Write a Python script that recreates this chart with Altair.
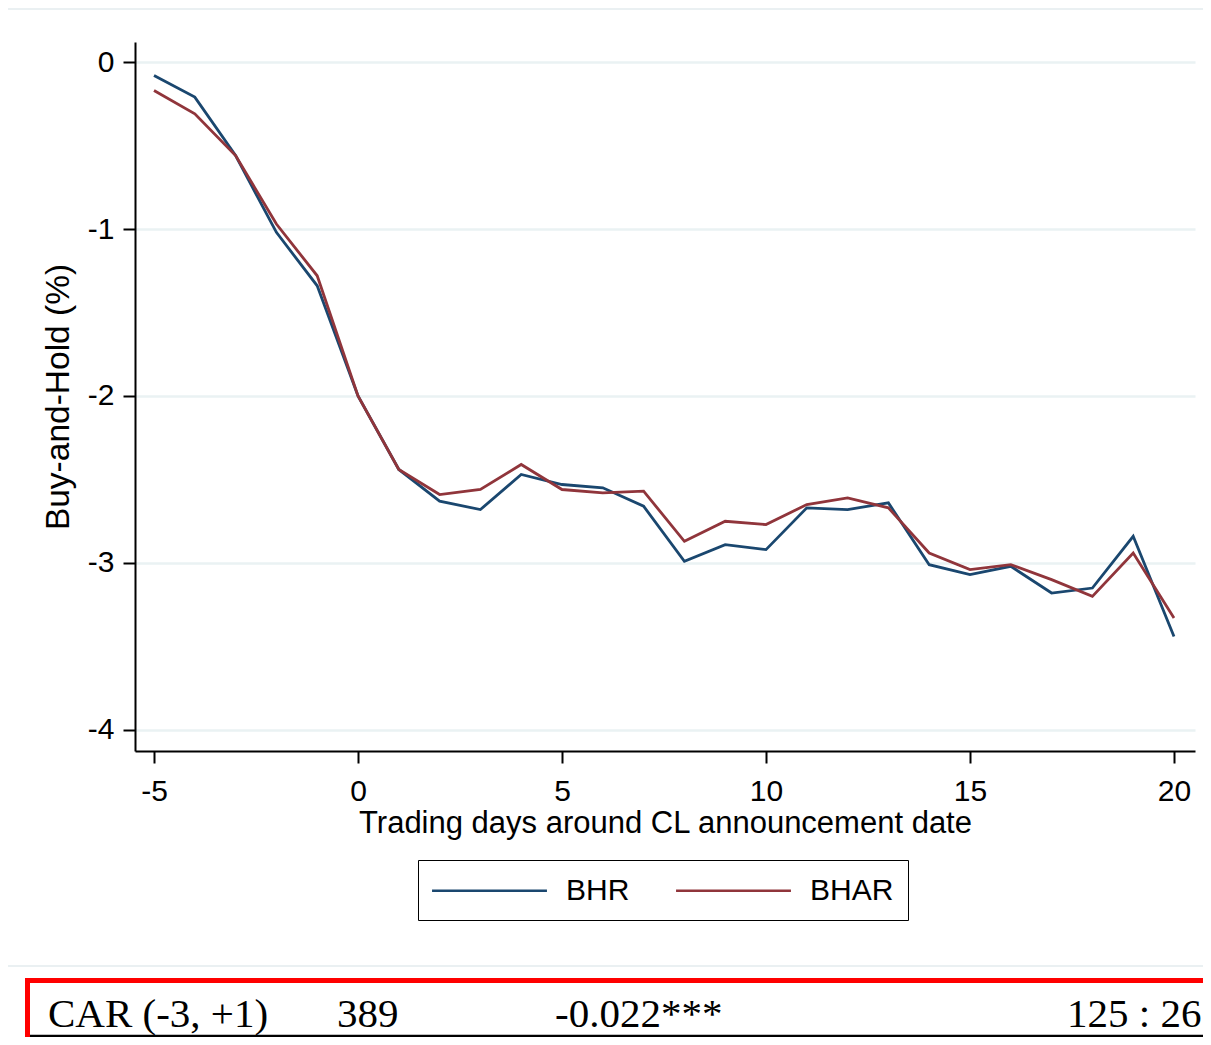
import altair as alt
import pandas as pd

days = list(range(-5, 21))
bhr = [-0.08, -0.21, -0.56, -1.02, -1.34, -2.00, -2.44, -2.63, -2.68, -2.47,
       -2.53, -2.55, -2.66, -2.99, -2.89, -2.92, -2.67, -2.68, -2.64, -3.01,
       -3.07, -3.02, -3.18, -3.15, -2.84, -3.44]
bhar = [-0.17, -0.31, -0.56, -0.97, -1.28, -2.00, -2.44, -2.59, -2.56, -2.41,
        -2.56, -2.58, -2.57, -2.87, -2.75, -2.77, -2.65, -2.61, -2.67, -2.94,
        -3.04, -3.01, -3.10, -3.20, -2.94, -3.33]
series_names = ["BHR", "BHAR"]
series_colors = ["#1a476f", "#90353b"]
x_ticks = [-5, 0, 5, 10, 15, 20]
y_ticks = [0, -1, -2, -3, -4]
x_title = "Trading days around CL announcement date"
y_title = "Buy-and-Hold (%)"
table_row = ["CAR (-3, +1)", "389", "-0.022***", "125 : 26"]

rows = []
for name, vals in zip(series_names, [bhr, bhar]):
    for d, v in zip(days, vals):
        rows.append({"day": d, "value": v, "series": name})
df = pd.DataFrame(rows)

SANS = "Liberation Sans"
SERIF = "Liberation Serif"

lines = alt.Chart(df).mark_line(strokeWidth=2.8).encode(
    x=alt.X("day:Q",
            scale=alt.Scale(domain=[-5.466, 20.515], nice=False, zero=False),
            axis=alt.Axis(values=x_ticks, title=x_title, grid=False,
                          labelExpr="'' + datum.value",
                          labelFont=SANS, labelFontSize=30, labelColor="black",
                          labelPadding=13.5, tickSize=12, tickWidth=2, tickColor="black",
                          domainColor="black", domainWidth=2,
                          titleFont=SANS, titleFontSize=31, titleFontWeight="normal",
                          titleColor="black", titlePadding=1.5)),
    y=alt.Y("value:Q",
            scale=alt.Scale(domain=[-4.126, 0.12], nice=False, zero=False),
            axis=alt.Axis(values=y_ticks, title=y_title, grid=True,
                          gridColor="#eaf2f3", gridWidth=2.5,
                          labelExpr="'' + datum.value",
                          labelFont=SANS, labelFontSize=30, labelColor="black",
                          labelPadding=9, tickSize=12, tickWidth=2, tickColor="black",
                          domainColor="black", domainWidth=2,
                          titleFont=SANS, titleFontSize=33.5, titleFontWeight="normal",
                          titleColor="black", titlePadding=12)),
    color=alt.Color("series:N",
                    scale=alt.Scale(domain=series_names, range=series_colors),
                    sort=series_names,
                    legend=alt.Legend(orient="none", legendX=283, legendY=818,
                                      direction="horizontal", title=None,
                                      symbolType="M-3.83,0L3.83,0", symbolSize=900,
                                      symbolStrokeWidth=2.5, symbolOffset=41,
                                      labelOffset=60, labelFont=SANS,
                                      labelFontSize=30, labelColor="black",
                                      columnPadding=41, strokeColor="black",
                                      fillColor="white", padding=14)),
)

one = alt.Data(values=[{}])

frame = alt.Chart(one).mark_rect(fillOpacity=0, stroke="#e4ebee", strokeWidth=1.5).encode(
    x=alt.value(-128), x2=alt.value(1100), y=alt.value(-33), y2=alt.value(924))

red_box = alt.Chart(one).mark_rect(fillOpacity=0, stroke="#ff0000", strokeWidth=5).encode(
    x=alt.value(-107.5), x2=alt.value(1100), y=alt.value(938.5), y2=alt.value(1010))

black_rule = alt.Chart(one).mark_rule(color="black", strokeWidth=2.5).encode(
    x=alt.value(-105), x2=alt.value(1100), y=alt.value(994))

text_x = [-87, 202, 420, 932]
texts = [
    alt.Chart(one).mark_text(text=t, font=SERIF, fontSize=41, align="left",
                             baseline="alphabetic", color="black").encode(
        x=alt.value(px), y=alt.value(985))
    for t, px in zip(table_row, text_x)
]

chart = alt.layer(frame, lines, red_box, black_rule, *texts).properties(
    width=1060, height=709,
    autosize=alt.AutoSizeParams(type="none"),
    padding={"left": 127, "top": 34, "right": 8, "bottom": 286},
    background="white",
).configure_view(strokeWidth=0)

chart.save("out.html", embed_options={"renderer": "svg", "actions": False})
